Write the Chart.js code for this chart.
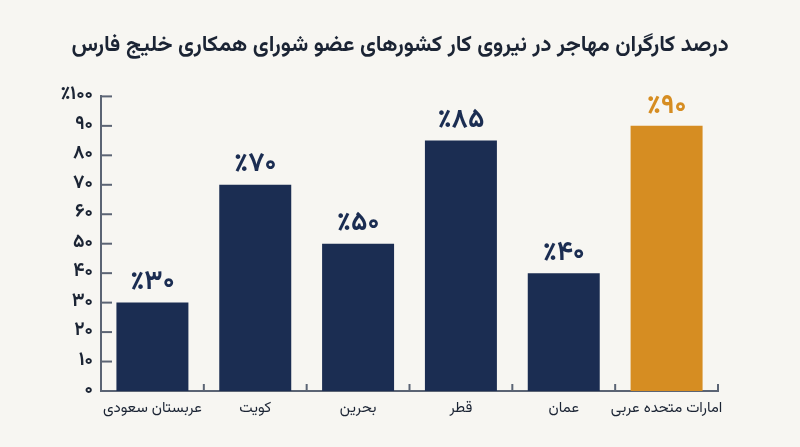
<!DOCTYPE html>
<html lang="fa">
<head>
<meta charset="utf-8">
<title>درصد کارگران مهاجر</title>
<script src="https://cdn.jsdelivr.net/npm/chart.js@4.4.1/dist/chart.umd.min.js"></script>
<style>
  html, body { margin: 0; padding: 0; background: #f7f6f2; }
  #wrap { width: 800px; height: 447px; }
</style>
</head>
<body>
<div id="wrap"><canvas id="chart" width="800" height="447"></canvas></div>
<script>
const categories = ["عربستان سعودی", "کویت", "بحرین", "قطر", "عمان", "امارات متحده عربی"];
const values = [30, 70, 50, 85, 40, 90];
const valueLabels = ["٪۳۰", "٪۷۰", "٪۵۰", "٪۸۵", "٪۴۰", "٪۹۰"];
const yTickLabels = ["۰", "۱۰", "۲۰", "۳۰", "۴۰", "۵۰", "۶۰", "۷۰", "۸۰", "۹۰", "٪۱۰۰"];
const barColors = ["#1b2d52", "#1b2d52", "#1b2d52", "#1b2d52", "#1b2d52", "#d68d22"];

const FONT = "'Vazirmatn', 'Noto Sans Arabic', 'DejaVu Sans', sans-serif";
const AXIS = "#5b6474";
const INK = "#1b2434";

// short tick marks pointing into the plot, plus value labels over bars
const extras = {
  id: "extras",
  afterDatasetsDraw(chart) {
    const { ctx } = chart;
    const x = chart.scales.x, y = chart.scales.y;
    ctx.save();
    ctx.strokeStyle = AXIS;
    ctx.lineWidth = 2;
    y.ticks.forEach(t => {
      const py = y.getPixelForValue(t.value);
      ctx.beginPath();
      ctx.moveTo(x.left, py);
      ctx.lineTo(x.left + 11, py);
      ctx.stroke();
    });
    const step = (x.right - x.left) / categories.length;
    for (let i = 1; i <= categories.length; i++) {
      const px = x.getPixelForValue(i - 1) + step / 2;
      ctx.beginPath();
      ctx.moveTo(px, y.bottom);
      ctx.lineTo(px, y.bottom - 7);
      ctx.stroke();
    }
    const meta = chart.getDatasetMeta(0);
    ctx.font = "bold 27px " + FONT;
    ctx.textAlign = "center";
    ctx.textBaseline = "bottom";
    meta.data.forEach((bar, i) => {
      ctx.fillStyle = barColors[i];
      ctx.fillText(valueLabels[i], bar.x, bar.y - 4);
    });
    ctx.restore();
  }
};

new Chart(document.getElementById("chart"), {
  type: "bar",
  data: {
    labels: categories,
    datasets: [{
      data: values,
      backgroundColor: barColors,
      categoryPercentage: 1,
      barPercentage: 0.7
    }]
  },
  options: {
    responsive: false,
    animation: false,
    layout: { padding: { top: 8, right: 0, bottom: 14, left: 0 } },
    plugins: {
      legend: { display: false },
      tooltip: { enabled: false },
      title: {
        display: true,
        text: "درصد کارگران مهاجر در نیروی کار کشورهای عضو شورای همکاری خلیج فارس",
        color: INK,
        font: { family: FONT, size: 22, weight: "bold" },
        padding: { top: 26, bottom: 36 }
      }
    },
    scales: {
      x: {
        grid: { display: false, drawTicks: false },
        border: { display: true, color: AXIS, width: 2 },
        ticks: {
          color: INK,
          font: { family: FONT, size: 15 },
          padding: 10,
          maxRotation: 0,
          autoSkip: false
        },
        afterFit(s) { s.height = 42; }
      },
      y: {
        min: 0,
        max: 100,
        grid: { display: false, drawTicks: false },
        border: { display: true, color: AXIS, width: 2 },
        ticks: {
          stepSize: 10,
          color: INK,
          font: { family: FONT, size: 19, weight: "bold" },
          padding: 8,
          callback: (v) => yTickLabels[v / 10]
        },
        afterFit(s) { s.width = 101; }
      },
      // empty right-hand gutter so the plot ends where the reference does
      gutter: {
        position: "right",
        display: true,
        grid: { display: false, drawTicks: false },
        border: { display: false },
        ticks: { display: false },
        afterFit(s) { s.width = 82; }
      }
    }
  },
  plugins: [extras]
});
</script>
</body>
</html>
